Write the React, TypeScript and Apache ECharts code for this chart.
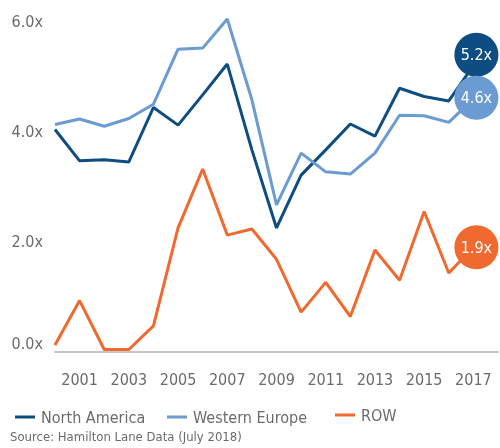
import React, { useEffect, useRef } from "react";
import * as echarts from "echarts";

const years = ["2000","2001","2002","2003","2004","2005","2006","2007","2008","2009","2010","2011","2012","2013","2014","2015","2016","2017","2018"];
const northAmerica = [4.04, 3.47, 3.49, 3.45, 4.44, 4.12, 4.67, 5.23, 3.67, 2.25, 3.21, 3.67, 4.14, 3.92, 4.79, 4.64, 4.56, 5.2];
const westernEurope = [4.13, 4.23, 4.10, 4.24, 4.50, 5.50, 5.52, 6.05, 4.58, 2.67, 3.61, 3.27, 3.23, 3.61, 4.30, 4.29, 4.17, 4.6];
const row = [0.12, 0.93, 0.04, 0.04, 0.47, 2.25, 3.32, 2.12, 2.23, 1.68, 0.72, 1.26, 0.64, 1.85, 1.30, 2.55, 1.43, 1.9];
const badgeLabels = ["5.2x", "4.6x", "1.9x"];
const yTicks = [0, 2, 4, 6];

const FONT = "'DejaVu Sans Condensed', 'Liberation Sans Narrow', Roboto, sans-serif";
const TEXT = "#6b6b6b";
const C_NA = "#0d4d82";
const C_WE = "#6b9bd3";
const C_ROW = "#f06a2f";

function makeSeries(name: string, data: number[], color: string, badge: string, offY: number) {
  const last = data.length - 1;
  return {
    name,
    type: "line",
    data,
    symbol: "none",
    lineStyle: { color, width: 3 },
    itemStyle: { color },
    markPoint: {
      symbol: "circle",
      symbolSize: 44,
      symbolOffset: [3, offY],
      itemStyle: { color },
      label: { show: true, color: "#ffffff", fontSize: 16, fontFamily: FONT, formatter: badge },
      data: [{ coord: [last, data[last]], value: badge }],
    },
  };
}

export default function App() {
  const ref = useRef<HTMLDivElement>(null);
  useEffect(() => {
    const chart = echarts.init(ref.current!, null, { renderer: "svg" });
    const legendBase = {
      icon: "rect",
      itemWidth: 20,
      itemHeight: 3,
      itemGap: 6,
      top: 404,
      textStyle: { color: TEXT, fontSize: 16, fontFamily: FONT, padding: [0, 0, 0, 1] },
      selectedMode: false,
    };
    chart.setOption({
      animation: false,
      grid: { left: 55, right: 2, top: 10.7, bottom: 96.3 },
      xAxis: {
        type: "category",
        data: years,
        boundaryGap: false,
        axisLine: { lineStyle: { color: "#c6c6c6", width: 2 } },
        axisTick: { show: false },
        axisLabel: {
          color: TEXT,
          fontSize: 16,
          fontFamily: FONT,
          margin: 20,
          interval: (i: number) => i % 2 === 1,
        },
        splitLine: { show: false },
      },
      yAxis: {
        type: "value",
        min: 0,
        max: 6.2,
        interval: 2,
        axisLine: { show: false },
        axisTick: { show: false },
        splitLine: { show: false },
        axisLabel: {
          color: TEXT,
          fontSize: 16,
          fontFamily: FONT,
          margin: 12,
          verticalAlignMinLabel: "bottom",
          formatter: (v: number) => (yTicks.indexOf(v) >= 0 ? v.toFixed(1) + "x" : ""),
        },
      },
      legend: [
        { ...legendBase, left: 10, data: ["North America"] },
        { ...legendBase, left: 162, data: ["Western Europe"] },
        { ...legendBase, left: 330, top: 402, data: ["ROW"] },
      ],
      graphic: [
        {
          type: "text",
          left: 10,
          top: 430,
          style: { text: "Source: Hamilton Lane Data (July 2018)", fill: TEXT, fontSize: 13, fontFamily: FONT },
        },
      ],
      series: [
        makeSeries("North America", northAmerica, C_NA, badgeLabels[0], -11),
        makeSeries("Western Europe", westernEurope, C_WE, badgeLabels[1], -1),
        makeSeries("ROW", row, C_ROW, badgeLabels[2], 0),
      ],
    });
    return () => chart.dispose();
  }, []);
  return <div ref={ref} style={{ position: "fixed", left: 0, top: 0, width: 500, height: 448 }} />;
}
